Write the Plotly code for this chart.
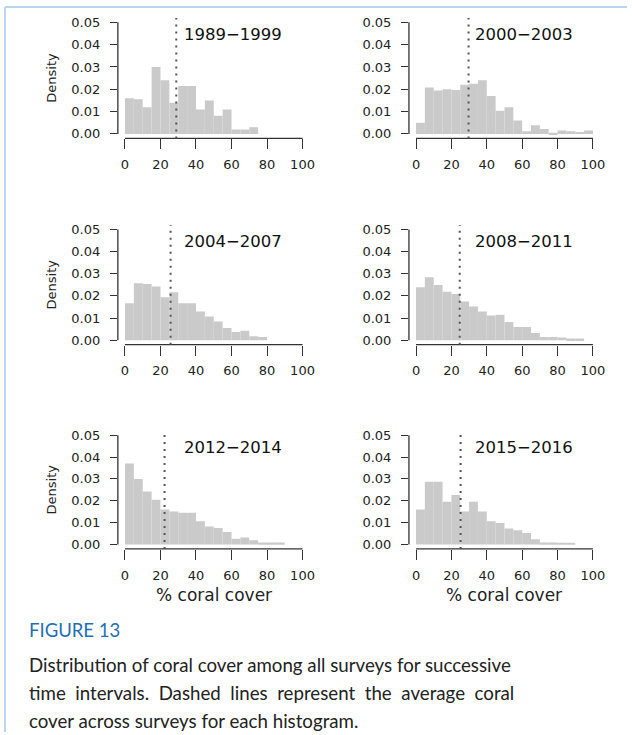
import numpy as np
import plotly.graph_objects as go

# ---------------- data ----------------
bin_edges = list(range(0, 105, 5))
periods = ["1989−1999", "2000−2003", "2004−2007", "2008−2011", "2012−2014", "2015−2016"]

dens_1989_1999 = [0.016, 0.0155, 0.012, 0.030, 0.024, 0.014, 0.0215, 0.0215, 0.011, 0.015,
                  0.0082, 0.011, 0.002, 0.002, 0.003, 0, 0, 0, 0, 0]
dens_2000_2003 = [0.005, 0.0208, 0.0195, 0.020, 0.0197, 0.022, 0.0225, 0.024, 0.017, 0.0104,
                  0.012, 0.006, 0.0012, 0.0039, 0.0022, 0.0005, 0.0015, 0.0012, 0.0009, 0.0015]
dens_2004_2007 = [0.0167, 0.0257, 0.0254, 0.0242, 0.0194, 0.0216, 0.0167, 0.0167, 0.013, 0.0107,
                  0.0085, 0.0055, 0.0037, 0.0043, 0.0018, 0.0015, 0, 0, 0, 0]
dens_2008_2011 = [0.0239, 0.0284, 0.0249, 0.0219, 0.0209, 0.0175, 0.0152, 0.013, 0.0112, 0.0115,
                  0.0082, 0.006, 0.006, 0.0033, 0.0015, 0.0015, 0.0012, 0.0008, 0.0008, 0]
dens_2012_2014 = [0.037, 0.0299, 0.0242, 0.0205, 0.016, 0.0151, 0.0145, 0.0145, 0.0106, 0.0083,
                  0.0076, 0.0057, 0.0027, 0.0032, 0.002, 0.0009, 0.0009, 0.0009, 0, 0]
dens_2015_2016 = [0.016, 0.0287, 0.0287, 0.0196, 0.0227, 0.0151, 0.0196, 0.0151, 0.0106, 0.0098,
                  0.0073, 0.0065, 0.0053, 0.0024, 0.0009, 0.0009, 0.0005, 0.0005, 0, 0]
mean_cover = [28.9, 29.7, 25.7, 24.7, 22.3, 25.2]

x_ticks = [0, 20, 40, 60, 80, 100]
y_ticks = [0.00, 0.01, 0.02, 0.03, 0.04, 0.05]

all_dens = [dens_1989_1999, dens_2000_2003, dens_2004_2007,
            dens_2008_2011, dens_2012_2014, dens_2015_2016]

# ---------------- layout helpers ----------------
W, H = 632, 735
edges = np.array(bin_edges, dtype=float)
centers = (edges[:-1] + edges[1:]) / 2
widths = np.diff(edges)

# pixel boxes of each plot region (left, top, width, height)
col_left = [118.8, 412.2]
col_w = [193.3, 192.6]
row_top = [15.0, 223.8, 431.3]
row_h = [121.5, 120.7, 119.1]

TICK_FONT = dict(family="DejaVu Sans", size=13, color="#222")
LINE_COL = "#333"

fig = go.Figure()
layout = dict(width=W, height=H, margin=dict(l=0, r=0, t=0, b=0),
              paper_bgcolor="white", plot_bgcolor="white", showlegend=False)
shapes = []
annotations = []

for i, dens in enumerate(all_dens):
    r, c = divmod(i, 2)
    k = "" if i == 0 else str(i + 1)
    xa, ya = "x" + k, "y" + k
    x0 = col_left[c] / W
    x1 = (col_left[c] + col_w[c]) / W
    y1 = 1 - row_top[r] / H
    y0 = 1 - (row_top[r] + row_h[r]) / H

    fig.add_trace(go.Bar(x=centers, y=dens, width=widths, xaxis=xa, yaxis=ya,
                         marker=dict(color="#cacaca", line=dict(width=0)),
                         hoverinfo="x+y"))

    layout["xaxis" + k] = dict(domain=[x0, x1], anchor=ya, range=[-4, 104],
                               tickvals=x_ticks, ticks="outside", ticklen=10,
                               tickcolor=LINE_COL, tickwidth=1, showline=False,
                               showgrid=False, zeroline=False, tickfont=TICK_FONT,
                               ticklabelstandoff=4)
    layout["yaxis" + k] = dict(domain=[y0, y1], anchor=xa, range=[-0.002, 0.052],
                               tickvals=y_ticks, tickformat=".2f", ticks="outside",
                               ticklen=7, tickcolor=LINE_COL, tickwidth=1,
                               showline=False, showgrid=False, zeroline=False,
                               tickfont=TICK_FONT, ticklabelstandoff=7)

    # R-style detached axis lines spanning only the tick range
    shapes.append(dict(type="line", xref=xa, yref=ya + " domain",
                       x0=x_ticks[0], x1=x_ticks[-1], y0=0, y1=0,
                       line=dict(color=LINE_COL, width=1.3)))
    shapes.append(dict(type="line", xref=xa + " domain", yref=ya,
                       x0=0, x1=0, y0=y_ticks[0], y1=y_ticks[-1],
                       line=dict(color=LINE_COL, width=1.3)))
    # mean line
    shapes.append(dict(type="line", xref=xa, yref=ya + " domain",
                       x0=mean_cover[i], x1=mean_cover[i], y0=0, y1=1,
                       line=dict(color="#555", width=2, dash="2px,5px")))
    # period label
    annotations.append(dict(text=periods[i], xref=xa, yref=ya, x=32, y=0.0445,
                            xanchor="left", yanchor="middle", showarrow=False,
                            font=dict(family="DejaVu Sans", size=16.5, color="#111")))
    if c == 0:
        annotations.append(dict(text="Density", xref="paper", yref=ya + " domain",
                                x=52 / W, y=0.5, textangle=-90, showarrow=False,
                                xanchor="center", yanchor="middle",
                                font=dict(family="DejaVu Sans", size=13, color="#222")))
    if r == 2:
        annotations.append(dict(text="% coral cover", xref=xa + " domain", yref="paper",
                                x=0.5, y=1 - 597 / H, showarrow=False,
                                xanchor="center", yanchor="middle",
                                font=dict(family="DejaVu Sans", size=17, color="#222")))

# caption
cap_font = dict(family="Lato", size=18.7, color="#222")
annotations.append(dict(text="FIGURE 13", xref="paper", yref="paper", x=27 / W,
                        y=1 - 632 / H, xanchor="left", yanchor="middle", showarrow=False,
                        font=dict(family="Lato", size=18.5, color="#1f6fb5")))
cap_lines = [
    "Distribution of coral cover among all surveys for successive",
    "time  intervals.  Dashed  lines  represent  the  average  coral",
    "cover across surveys for each histogram.",
]
cap_y = [667, 696, 724]
for t, yy in zip(cap_lines, cap_y):
    annotations.append(dict(text=t.replace("  ", "&nbsp; "), xref="paper", yref="paper",
                            x=27 / W, y=1 - yy / H, xanchor="left", yanchor="middle",
                            showarrow=False, font=cap_font))

# light blue frame (top and left edges)
shapes.append(dict(type="line", xref="paper", yref="paper", x0=5 / W, x1=1,
                   y0=1 - 4 / H, y1=1 - 4 / H, line=dict(color="#b9d6ef", width=2)))
shapes.append(dict(type="line", xref="paper", yref="paper", x0=5 / W, x1=5 / W,
                   y0=0, y1=1 - 4 / H, line=dict(color="#b9d6ef", width=2)))

layout["shapes"] = shapes
layout["annotations"] = annotations
fig.update_layout(**layout)
fig.write_html("out.html", config={"displayModeBar": False},
               post_script="document.body.style.margin='0';")
